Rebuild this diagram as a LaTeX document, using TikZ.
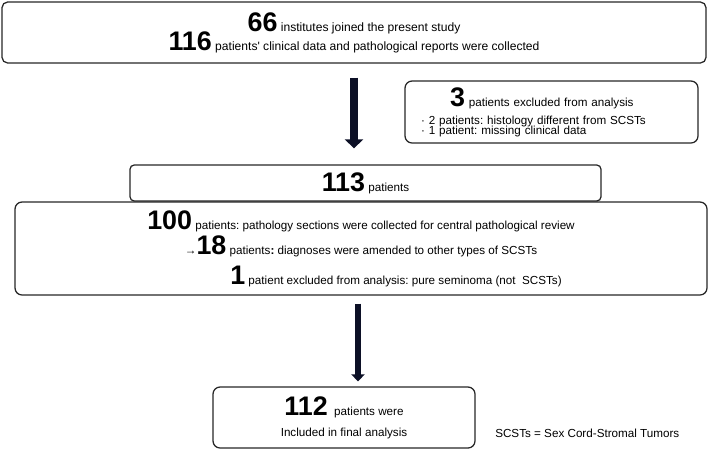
\documentclass[tikz,border=0pt]{standalone}
\usepackage{fontspec}
\setmainfont{Liberation Sans}
\usepackage{xcolor}
\usepackage{tikz}
\usetikzlibrary{arrows.meta}

\definecolor{arrowink}{RGB}{12,16,38}
\newcommand{\bignum}[1]{{\fontsize{19.1pt}{19.1pt}\selectfont\bfseries #1}}
\frenchspacing

\begin{document}
\begin{tikzpicture}[
  font=\fontsize{8.3pt}{10pt}\selectfont,
  stage/.style={draw=black!85, line width=0.9pt, rounded corners=5pt, align=center, inner sep=0pt},
  tight/.style={font={\fontsize{8.3pt}{#1}\selectfont\lineskiplimit=-20pt}},
  note/.style={font=\fontsize{8.3pt}{10pt}\selectfont, inner sep=0pt},
  flow/.style={draw=arrowink, line width=5.6pt, -{Triangle[width=12.8pt, length=6.4pt]}},
  flowthin/.style={draw=arrowink, line width=4.3pt, -{Triangle[width=9.4pt, length=5pt]}}
]
  \useasboundingbox (0,0) rectangle (17.725,-11.25);

  \node[stage, minimum width=17.6cm, minimum height=1.525cm, font={\fontsize{8.6pt}{13.5pt}\selectfont\lineskiplimit=-20pt}, rounded corners=4pt] at (8.85,-0.8125) (study)
    {\bignum{66} institutes joined the present study\\
     \bignum{116} patients\textquotesingle\ clinical data and pathological reports were collected};
  \node[stage, text width=6.525cm, inner xsep=0.4cm, minimum height=1.55cm, align=left, tight=7.1pt] at (13.7875,-2.8) (excluded)
    {\hspace*{0.725cm}\bignum{3} patients excluded from analysis\\[5.7pt]
     · 2 patients: histology different from SCSTs\\
     · 1 patient: missing clinical data};
  \node[stage, minimum width=11.775cm, minimum height=0.9cm, rounded corners=3pt] at (9.1375,-4.575) (cohort)
    {\bignum{113} patients};
  \node[stage, minimum width=17.3cm, minimum height=2.325cm, tight=17.7pt] at (9.025,-6.2125) (review)
    {\bignum{100} patients: pathology sections were collected for central pathological review\\
     →\bignum{18} patients\textbf{:} diagnoses were amended to other types of SCSTs\\[3.6pt]
     \hspace*{1.75cm}\bignum{1} patient excluded from analysis: pure seminoma (not\ \ SCSTs)};
  \node[stage, minimum width=6.55cm, minimum height=1.525cm, tight=14.9pt] at (8.6,-10.4375) (final)
    {\bignum{112}\ \ patients were\\
     Included in final analysis};
  \node[note, anchor=base west] at (12.375,-10.925) (legend) {SCSTs = Sex Cord-Stromal Tumors};

  \draw[flow, shorten <=0.35cm, shorten >=0.4cm] (study.south) -- (study.south |- cohort.north);
  \draw[flowthin, shorten <=0.2cm, shorten >=0.125cm] ([xshift=-0.075cm]review.south) -- ([xshift=-0.075cm]review.south |- final.north);
\end{tikzpicture}
\end{document}
